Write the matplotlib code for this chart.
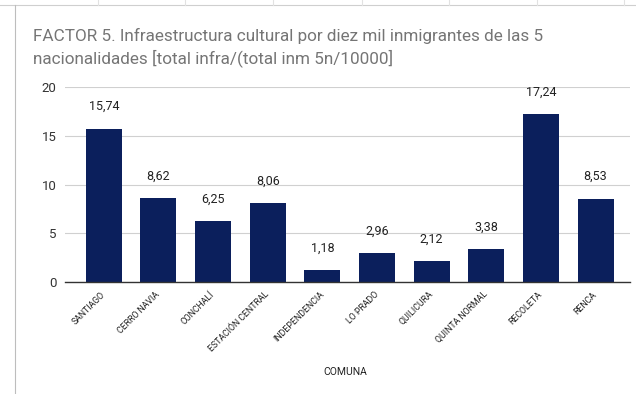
import matplotlib
matplotlib.use('Agg')
import matplotlib.pyplot as plt
import matplotlib.transforms as mtransforms
from matplotlib.lines import Line2D

comunas = ["SANTIAGO", "CERRO NAVIA", "CONCHALÍ", "ESTACIÓN CENTRAL", "INDEPENDENCIA",
           "LO PRADO", "QUILICURA", "QUINTA NORMAL", "RECOLETA", "RENCA"]
valores = [15.74, 8.62, 6.25, 8.06, 1.18, 2.96, 2.12, 3.38, 17.24, 8.53]
yticks = [0, 5, 10, 15, 20]

plt.rcParams['font.family'] = ['Roboto', 'DejaVu Sans']

W, H = 636, 394
fig = plt.figure(figsize=(W / 100, H / 100), dpi=100, facecolor='white')

# spreadsheet frame around the chart
fig.add_artist(Line2D([0, 1], [1 - 5 / H, 1 - 5 / H], color='#cfcfcf', lw=0.8))
fig.add_artist(Line2D([15 / W, 15 / W], [0, 1 - 5 / H], color='#bdbdbd', lw=0.8))
for gx in [98, 185, 273, 362, 449, 537, 624]:
    fig.add_artist(Line2D([gx / W, gx / W], [1 - 5 / H, 1], color='#e2e2e2', lw=0.8))

ax = fig.add_axes([65 / W, 1 - 282 / H, (630 - 65) / W, (282 - 87) / H])
x = range(len(comunas))
ax.bar(x, valores, width=0.66, color='#0b1f5c', zorder=3)

for xi, v in zip(x, valores):
    ax.text(xi, v + 1.6, f"{v:.2f}".replace('.', ','), ha='center', va='bottom',
            fontsize=9, color='#222222')

ax.set_xlim(-0.71, 9.63)
ax.set_ylim(0, 20)
ax.set_yticks(yticks)
ax.set_yticklabels([str(t) for t in yticks], fontsize=9.5, color='#333333')
ax.grid(axis='y', color='#d0d0d0', lw=0.8, zorder=0)
ax.set_xticks(list(x))
ax.set_xticklabels(comunas, rotation=45, ha='right', va='center', fontsize=6.3,
                   rotation_mode='anchor', color='#222222')
shift = mtransforms.ScaledTranslation(7 / 100, 0, fig.dpi_scale_trans)
for lab in ax.get_xticklabels():
    lab.set_transform(lab.get_transform() + shift)
ax.tick_params(axis='both', length=0, pad=6)
ax.tick_params(axis='x', pad=8)
for s in ['top', 'right', 'left']:
    ax.spines[s].set_visible(False)
ax.spines['bottom'].set_color('#333333')
ax.spines['bottom'].set_linewidth(1.0)
ax.spines['bottom'].set_zorder(4)

fig.text(345 / W, 1 - 372 / H, "COMUNA", ha='center', va='center', fontsize=7.5, color='#222222')
fig.text(33 / W, 1 - 36 / H, "FACTOR 5. Infraestructura cultural por diez mil inmigrantes de las 5",
         ha='left', va='center', fontsize=12.3, color='#757575')
fig.text(33 / W, 1 - 58 / H, "nacionalidades [total infra/(total inm 5n/10000]",
         ha='left', va='center', fontsize=12.3, color='#757575')

plt.savefig("out.png", dpi=100, facecolor='white')
plt.close()
